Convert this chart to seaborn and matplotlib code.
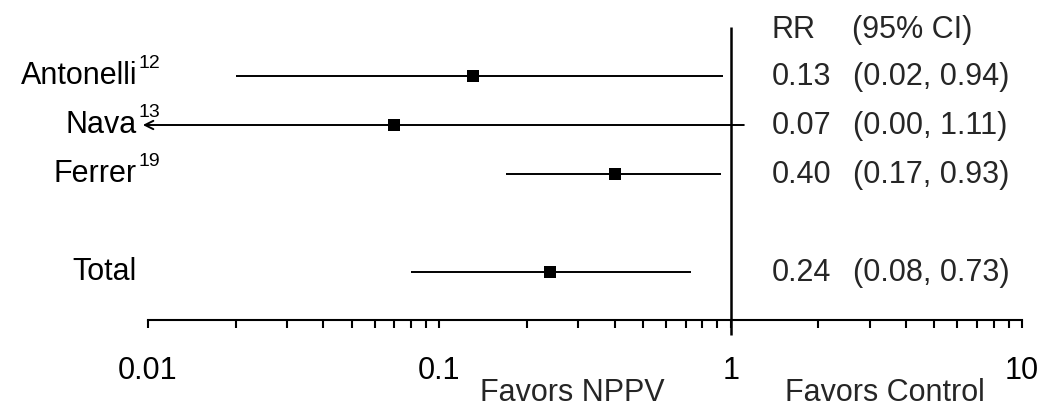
import numpy as np
import pandas as pd
import matplotlib
matplotlib.use("Agg")
import matplotlib.pyplot as plt
import seaborn as sns
from matplotlib.ticker import LogLocator, NullFormatter, FixedLocator, FixedFormatter

# ---- data ----
studies = ["Antonelli", "Nava", "Ferrer", "Total"]
refs = ["12", "13", "19", ""]
rr = [0.13, 0.07, 0.40, 0.24]
ci_low = [0.02, 0.00, 0.17, 0.08]
ci_high = [0.94, 1.11, 0.93, 0.73]
rows = [0, 1, 2, 4]
rr_labels = ["0.13", "0.07", "0.40", "0.24"]
ci_labels = ["(0.02, 0.94)", "(0.00, 1.11)", "(0.17, 0.93)", "(0.08, 0.73)"]
tick_values = [0.01, 0.1, 1, 10]
tick_labels = ["0.01", "0.1", "1", "10"]

sns.set_theme(style="white")
plt.rcParams["font.family"] = ["Liberation Sans", "DejaVu Sans"]

df = pd.DataFrame({"study": studies, "rr": rr, "lo": ci_low, "hi": ci_high, "row": rows})

W, H = 1041, 409
fig = plt.figure(figsize=(W / 100, H / 100), dpi=100)
ax = fig.add_axes([148 / W, 1 - 320 / H, 874 / W, 320 / H])
ax.set_xscale("log")
xmin, xmax = 0.01, 10
ax.set_xlim(xmin, xmax)
# row 0 at y=76px, spacing 49px
y0, dy = 76, 49
ax.set_ylim((320 - y0) / dy, (0 - y0) / dy)

lw = 1.4
for _, r in df.iterrows():
    if r["lo"] <= 0:
        end = xmin * 0.96
        ax.annotate("", xy=(end, r["row"]), xytext=(r["hi"], r["row"]),
                    arrowprops=dict(arrowstyle="->", lw=lw, color="black",
                                    shrinkA=0, shrinkB=0, mutation_scale=15),
                    annotation_clip=False)
    else:
        ax.plot([r["lo"], r["hi"]], [r["row"], r["row"]], color="black", lw=lw,
                solid_capstyle="butt")

sns.scatterplot(data=df, x="rr", y="row", marker="s", s=70, color="black",
                edgecolor="black", linewidth=0, ax=ax, zorder=5, legend=False)

# reference line at 1
ax.plot([1, 1], [(27 - y0) / dy, (335 - y0) / dy], color="black", lw=1.8,
        clip_on=False, solid_capstyle="butt")

for s in ["top", "right", "left"]:
    ax.spines[s].set_visible(False)
ax.spines["bottom"].set_color("black")
ax.spines["bottom"].set_linewidth(1.5)

ax.xaxis.set_major_locator(FixedLocator(tick_values))
ax.xaxis.set_major_formatter(FixedFormatter(tick_labels))
ax.xaxis.set_minor_locator(LogLocator(base=10, subs=np.arange(2, 10)))
ax.xaxis.set_minor_formatter(NullFormatter())
ax.tick_params(axis="x", which="both", direction="out", bottom=True, length=6,
               width=1.5, color="black", labelsize=22, pad=20, labelcolor="black")
ax.set_yticks([])
ax.set_xlabel("")
ax.set_ylabel("")
ax.set_facecolor("white")

fs = 22


def fy(py):
    return 1 - py / H


# study labels
for name, ref, row in zip(studies, refs, rows):
    base = y0 + dy * row + 8
    fig.text(137 / W, fy(base), name, ha="right", va="baseline", fontsize=fs, color="black")
    if ref:
        fig.text(138 / W, fy(base - 16), ref, ha="left", va="baseline",
                 fontsize=14, color="black")

# right column
fig.text(772 / W, fy(38), "RR", ha="left", va="baseline", fontsize=fs)
fig.text(852 / W, fy(38), "(95% CI)", ha="left", va="baseline", fontsize=fs)
for rl, cl, row in zip(rr_labels, ci_labels, rows):
    base = y0 + dy * row + 9
    fig.text(772 / W, fy(base), rl, ha="left", va="baseline", fontsize=fs)
    fig.text(853 / W, fy(base), cl, ha="left", va="baseline", fontsize=fs)

fig.text(572 / W, fy(401), "Favors NPPV", ha="center", va="baseline", fontsize=fs)
fig.text(885 / W, fy(401), "Favors Control", ha="center", va="baseline", fontsize=fs)

fig.savefig("out.png", dpi=100, facecolor="white")
